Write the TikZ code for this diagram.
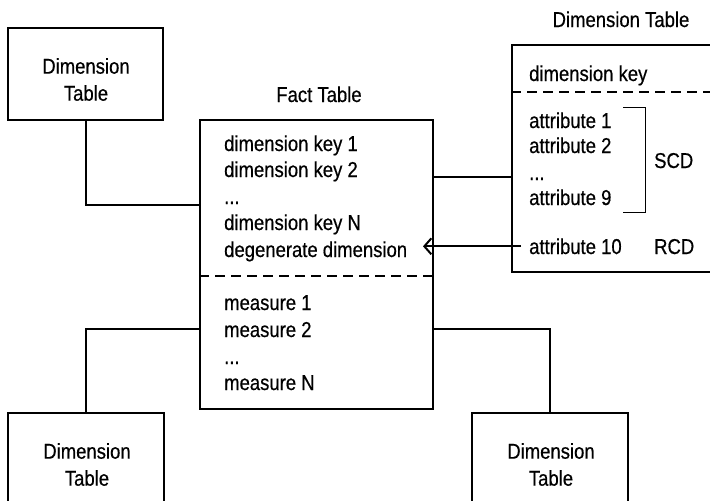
\documentclass[tikz,border=0pt]{standalone}
\usepackage{fontspec}
\setmainfont{Liberation Sans}[FakeStretch=0.86,FakeBold=0.5]
\usepackage{tikz}
\usetikzlibrary{arrows.meta,calc,positioning}

\tikzset{
  tbl/.style={draw,line width=2pt,inner sep=0pt},
  row/.style={anchor=base west,inner sep=0pt},
  ttl/.style={anchor=base,inner sep=0pt},
  boxtxt/.style={align=center,inner sep=0pt},
  link/.style={line width=2pt},
  split/.style={line width=1.6pt,dash pattern=on 10pt off 6pt},
}

\begin{document}
\begin{tikzpicture}[x=1pt,y=-1pt,font=\fontsize{21.5}{27}\selectfont]
\clip (0,0) rectangle (710,501);

% tables
\node[tbl,minimum width=155pt,minimum height=92pt] (dimTL) at (85.5,74) {};
\node[tbl,minimum width=156pt,minimum height=120pt] (dimBL) at (86,473) {};
\node[tbl,minimum width=156pt,minimum height=120pt] (dimBR) at (550,473) {};
\node[tbl,minimum width=233pt,minimum height=289pt] (fact) at (316.5,264.5) {};
\node[tbl,minimum width=208pt,minimum height=227pt] (dimR) at (616,158.5) {};

\node[boxtxt] (dimTLtxt) at (86,79.5) {Dimension\\Table};
\node[boxtxt] (dimBLtxt) at (87,464.5) {Dimension\\Table};
\node[boxtxt] (dimBRtxt) at (551,464.5) {Dimension\\Table};

% titles
\node[ttl] (factTitle) at (319,102) {Fact Table};
\node[ttl] (dimRTitle) at (621,27) {Dimension Table};

% fact table rows
\node[row] (fk1) at (224,151) {dimension key 1};
\node[row] (fk2) at (224,177) {dimension key 2};
\node[row] (fdots1) at (224,204) {...};
\node[row] (fkN) at (224,230) {dimension key N};
\node[row] (degen) at (224,257) {degenerate dimension};
\node[row] (fm1) at (224,310) {measure 1};
\node[row] (fm2) at (224,337) {measure 2};
\node[row] (fdots2) at (224,364) {...};
\node[row] (fmN) at (224,390) {measure N};
\draw[split] ($(fact.north west)+(0,157)$) -- ($(fact.north east)+(0,157)$);

% dimension table rows
\node[row] (dkey) at (529,81) {dimension key};
\node[row] (a1) at (529,128) {attribute 1};
\node[row] (a2) at (529,153) {attribute 2};
\node[row] (adots) at (529,180) {...};
\node[row] (a9) at (529,205) {attribute 9};
\node[row] (att10) at (529,254) {attribute 10};
\node[row] (scd) at (654,168) {SCD};
\node[row] (rcd) at (654,254) {RCD};
\draw[split] ($(dimR.north west)+(0,48)$) -- ($(dimR.north east)+(0,48)$);
\draw[line width=1pt] (623,107) -- (645,107) -- (645,212) -- (623,212);

% connectors
\draw[link] (dimTL.south) |- ($(fact.north west)+(0,86)$);
\draw[link] ($(fact.north east)+(0,58)$) coordinate (fr) -- (fr -| dimR.west);
\draw[link] ($(fact.south west)+(0,-81)$) -| (dimBL.north);
\draw[link] ($(fact.south east)+(0,-81)$) -| (dimBR.north);
\draw[link,-{Straight Barb[length=7pt,width=16pt]}] ([xshift=-8pt]att10.west) -- ($(att10.west -| fact.east)+(-11,0)$);
\end{tikzpicture}
\end{document}
